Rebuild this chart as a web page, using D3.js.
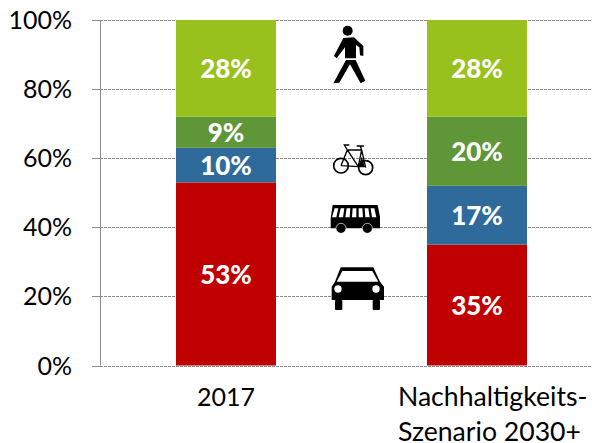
<!DOCTYPE html>
<html><head><meta charset="utf-8">
<script src="https://cdn.jsdelivr.net/npm/d3@7/dist/d3.min.js"></script>
<style>html,body{margin:0;padding:0;background:#fff}svg{display:block}text{font-family:Lato,"Open Sans",sans-serif}</style>
</head><body><svg id="c" width="592" height="443"></svg>
<script>
const categories = ["2017", "Nachhaltigkeits-|Szenario 2030+"];
const modes = ["Auto", "Bus", "Rad", "Fuss"];
const colors = ["#c00000", "#2e6b9b", "#5f9637", "#98c11d"];
const values2017 = [53, 10, 9, 28];
const valuesScenario = [35, 17, 20, 28];
const tickValues = [0, 20, 40, 60, 80, 100];
const series = [values2017, valuesScenario];

const svg = d3.select("#c");
const margin = {left: 101, right: 592, top: 20, bottom: 365.5};
const y = d3.scaleLinear().domain([0, 100]).range([margin.bottom, margin.top]);
const x = d3.scaleBand().domain(categories).range([101, 602]).paddingInner(151/251).paddingOuter(75/251);

svg.append("g").selectAll("line").data(tickValues).join("line")
  .attr("x1", 92).attr("x2", margin.right)
  .attr("y1", d => Math.round(y(d)) + 0.5).attr("y2", d => Math.round(y(d)) + 0.5)
  .attr("stroke", "#8c8c8c").attr("stroke-width", 1).attr("stroke-dasharray", "3,1");

svg.append("line").attr("x1", margin.left-0.5).attr("x2", margin.left-0.5)
  .attr("y1", margin.top).attr("y2", margin.bottom).attr("stroke", "#8c8c8c");
svg.append("g").selectAll("line").data(tickValues).join("line")
  .attr("x1", 92).attr("x2", margin.left)
  .attr("y1", d => Math.round(y(d)) + 0.5).attr("y2", d => Math.round(y(d)) + 0.5)
  .attr("stroke", "#8c8c8c");
svg.append("g").selectAll("text").data(tickValues).join("text")
  .attr("x", 72).attr("y", d => y(d) + 9).attr("text-anchor", "end")
  .attr("font-size", 25).attr("fill", "#000").text(d => d + "%");

categories.forEach((c, i) => {
  let acc = 0;
  series[i].forEach((v, k) => {
    const y0 = y(acc), y1 = y(acc + v);
    svg.append("rect").attr("x", x(c)).attr("width", x.bandwidth())
      .attr("y", y1).attr("height", y0 - y1).attr("fill", colors[k]);
    svg.append("text").attr("x", x(c) + x.bandwidth()/2).attr("y", (y0+y1)/2 + 10)
      .attr("text-anchor", "middle").attr("font-size", 26).attr("font-weight", 900)
      .attr("fill", "#fff").text(v + "%");
    acc += v;
  });
  c.split("|").forEach((t, j) => {
    svg.append("text").attr("x", i === 0 ? x(c) + x.bandwidth()/2 : 398)
      .attr("y", 406 + j*35).attr("text-anchor", i === 0 ? "middle" : "start")
      .attr("font-size", i === 0 ? 25 : 26.6).attr("fill", "#000").text(t);
  });
});

const icons = svg.append("g").attr("fill", "#000");
const p = icons.append("g").attr("transform", "translate(310,10) scale(0.3333)");
p.append("circle").attr("cx", 113).attr("cy", 62).attr("r", 15);
p.append("path").attr("d", "M100,84 L132,82 L160,108 L160,138 L150,136 L148,112 L138,105 L138,145 L105,145 L105,112 L80,145 L72,138 Z");
p.append("path").attr("d", "M108,150 L137,150 L166,212 L152,220 L120,163 L88,218 L70,220 Z");
const b = icons.append("g").attr("transform", "translate(310,10) scale(0.3333)").attr("fill", "none").attr("stroke", "#000");
b.append("circle").attr("cx", 93).attr("cy", 467).attr("r", 22).attr("stroke-width", 5);
b.append("circle").attr("cx", 167).attr("cy", 473).attr("r", 21).attr("stroke-width", 5);
b.append("path").attr("stroke-width", 4).attr("d", "M93,467 L112,420 L155,420 L167,473 M112,420 L145,470 L155,420 M145,470 L167,470 M93,467 L145,470 M112,420 L103,405 L118,405 M155,420 L151,408 M140,408 L162,408");
b.append("path").attr("fill", "#000").attr("stroke", "none").attr("d", "M146,470 L155,440 L165,470 Z");
const s = icons.append("g").attr("transform", "translate(310,190) scale(0.3333)");
s.append("path").attr("fill-rule", "evenodd").attr("d", "M68,45 L203,45 L210,80 L210,115 L62,115 L62,85 Z M74,55 L66,82 L79,82 L85,55 Z M92,55 L86,82 L99,82 L103,55 Z M110,55 L106,82 L119,82 L121,55 Z M128,55 L126,82 L139,82 L139,55 Z M146,55 L146,82 L159,82 L157,55 Z M164,55 L166,82 L179,82 L175,55 Z M182,55 L186,82 L199,82 L193,55 Z");
s.selectAll("circle").data([93, 172]).join("circle").attr("cx", d => d).attr("cy", 115).attr("r", 15).attr("stroke", "#fff").attr("stroke-width", 2);
const k = icons.append("g").attr("transform", "translate(310,190) scale(0.3333)");
k.append("path").attr("fill-rule", "evenodd").attr("d", "M92,232 L190,232 L210,275 L222,290 L222,330 L65,330 L65,290 L75,275 Z M97,243 L80,275 L205,275 L187,243 Z");
k.selectAll("circle").data([84, 198]).join("circle").attr("cx", d => d).attr("cy", 297).attr("r", 11).attr("fill", "#fff");
k.selectAll("rect").data([75, 188]).join("rect").attr("x", d => d).attr("y", 330).attr("width", 22).attr("height", 30).attr("rx", 3);
</script></body></html>
